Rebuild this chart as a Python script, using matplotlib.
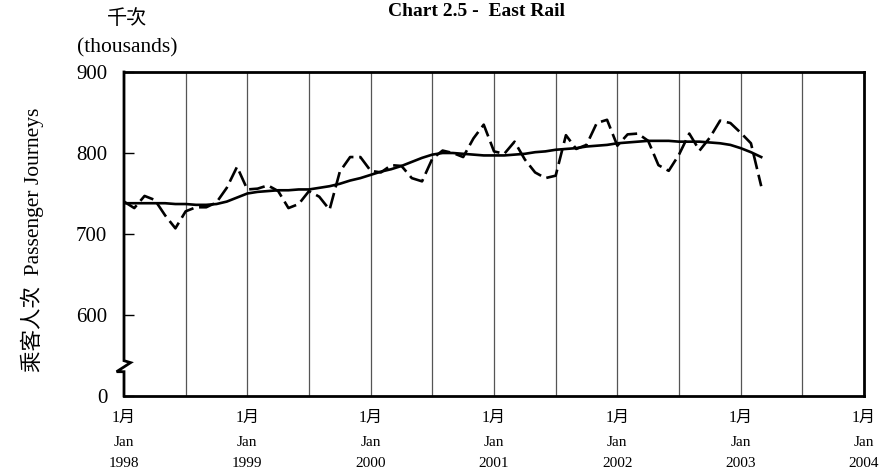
import matplotlib
matplotlib.use("Agg")
import matplotlib.pyplot as plt
import matplotlib.transforms as mtransforms
import numpy as np

SERIF = ["Liberation Serif", "Noto Sans CJK TC"]
CJK = ["Noto Sans CJK TC", "Liberation Serif"]

# ── data: monthly passenger journeys (thousands), Jan 1998 - Mar 2003 ──
actual = [
    740, 732, 747, 742, 723, 707, 728, 733, 733, 739, 757, 783,   # 1998
    755, 756, 760, 753, 732, 737, 753, 746, 730, 777, 795, 795,   # 1999
    778, 776, 785, 784, 769, 765, 793, 803, 800, 795, 818, 835,   # 2000
    802, 799, 814, 792, 776, 769, 772, 822, 805, 810, 837, 841,   # 2001
    809, 823, 824, 815, 785, 778, 798, 824, 803, 819, 840, 837,   # 2002
    825, 812, 759,                                                # 2003
]
trend = [
    738, 738, 738, 738, 738, 737, 737, 736, 736, 737, 740, 745,
    750, 752, 753, 754, 754, 755, 755, 757, 759, 762, 766, 769,
    773, 777, 780, 784, 789, 794, 798, 800, 800, 799, 798, 797,
    797, 797, 798, 799, 801, 802, 804, 805, 806, 808, 809, 810,
    812, 813, 814, 815, 815, 815, 814, 814, 814, 813, 812, 810,
    806, 801, 795,
]
years = ["1998", "1999", "2000", "2001", "2002", "2003", "2004"]
yticks = [500, 600, 700, 800, 900]
ytick_labels = ["0", "600", "700", "800", "900"]

months = np.arange(len(actual))

fig = plt.figure(figsize=(8.81, 4.73), dpi=100)
ax = fig.add_axes([124 / 881, 77 / 473, 740 / 881, 324 / 473])

# half-year vertical grid lines
for m in range(6, 72, 6):
    ax.axvline(m, color="#555555", linewidth=0.9, zorder=1)

ax.plot(months, actual, color="black", linewidth=1.9,
        dashes=(6, 2.2), zorder=3)
ax.plot(months, trend, color="black", linewidth=1.9, zorder=4)

ax.set_xlim(0, 72)
ax.set_ylim(500, 900)

# frame: left spine drawn by hand for the axis break
for s in ["top", "right", "bottom"]:
    ax.spines[s].set_linewidth(2)
ax.spines["left"].set_visible(False)
bx = [0, 0, 0.0089, -0.010, 0, 0]
by = [1, 0.109, 0.103, 0.075, 0.075, 0]
ax.plot(bx, by, color="black", linewidth=2, transform=ax.transAxes,
        clip_on=False, zorder=5, solid_joinstyle="miter")

ax.set_yticks(yticks)
ax.set_yticklabels(ytick_labels, family=SERIF, fontsize=15)
ax.tick_params(axis="y", direction="in", length=7, width=1, pad=12)
ax.set_xticks([])

# x labels: 1月 / Jan / year
trans = mtransforms.blended_transform_factory(ax.transData, fig.transFigure)
for i, yr in enumerate(years):
    x = i * 12
    ax.text(x, 1 - 418 / 473, "1月", transform=trans, ha="center",
            va="center", family=SERIF, fontsize=11.5)
    ax.text(x, 1 - 442 / 473, "Jan", transform=trans, ha="center",
            va="center", family=SERIF, fontsize=11)
    ax.text(x, 1 - 463 / 473, yr, transform=trans, ha="center",
            va="center", family=SERIF, fontsize=11)

fig.text(476 / 881, 1 - 12 / 473, "Chart 2.5 -  East Rail", ha="center",
         va="center", family=SERIF, fontsize=14, fontweight="bold")
fig.text(127 / 881, 1 - 19 / 473, "千次", ha="center", va="center",
         family=CJK, fontsize=14.5)
fig.text(127 / 881, 1 - 48 / 473, "(thousands)", ha="center", va="center",
         family=SERIF, fontsize=15.5)
fig.text(32 / 881, 1 - 240 / 473, "乘客人次  Passenger Journeys",
         ha="center", va="center", rotation=90, family=SERIF,
         fontsize=15.5)

fig.savefig("out.png", dpi=100)
